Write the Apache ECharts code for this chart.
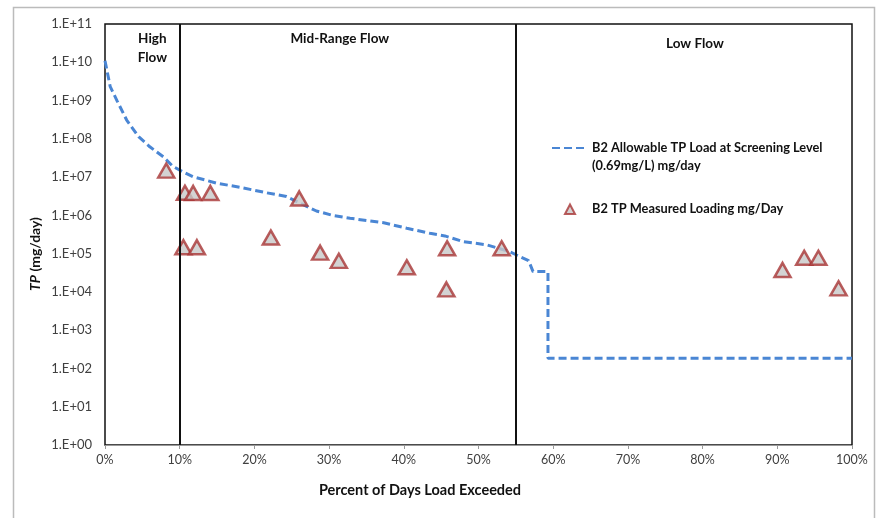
<!DOCTYPE html>
<html>
<head>
<meta charset="utf-8">
<script src="https://cdn.jsdelivr.net/npm/echarts@6/dist/echarts.min.js"></script>
<style>html,body{margin:0;padding:0;background:#fff}#c{width:883px;height:518px}</style>
</head>
<body>
<div id="c"></div>
<script>
// Allowable load curve (percent of days exceeded, mg/day)
var curvePct = [0, 0.7, 1.6, 2.9, 4.5, 6.0, 7.8, 9.1, 10.5, 11.8, 15, 18.1, 21.6, 24.3, 26.1, 28.3, 30.5, 32.8, 37.3, 40.4, 43.5, 45.5, 48, 51.1, 54.2, 55.1, 56.7, 57.3, 59.3, 59.3, 100];
var curveVal = [1.1e10, 2.3e9, 1.0e9, 3.1e8, 1.14e8, 6.2e7, 3.4e7, 1.9e7, 1.35e7, 1.02e7, 6.9e6, 5.4e6, 3.9e6, 3.1e6, 2.1e6, 1.3e6, 1.0e6, 8.4e5, 6.4e5, 4.6e5, 3.4e5, 2.9e5, 2.05e5, 1.7e5, 1.12e5, 9.2e4, 6.6e4, 3.4e4, 3.4e4, 184, 184];
// Measured loading
var measPct = [8.2, 10.7, 11.8, 14.1, 26.0, 10.5, 12.3, 22.2, 28.8, 31.3, 40.4, 45.8, 45.7, 53.1, 90.7, 93.6, 95.5, 98.2];
var measVal = [1.48e7, 3.9e6, 3.85e6, 3.85e6, 2.76e6, 1.47e5, 1.47e5, 2.64e5, 1.06e5, 6.5e4, 4.4e4, 1.38e5, 1.16e4, 1.38e5, 3.74e4, 7.8e4, 7.8e4, 1.24e4];
// Flow regimes
var regimeBreaks = [10, 55];
var regimeNames = ['High\nFlow', 'Mid-Range Flow', 'Low Flow'];
var regimeBounds = [[0, 10], [10, 55], [55, 100]];
var seriesNames = ['B2 Allowable TP Load at Screening Level\n(0.69mg/L) mg/day', 'B2 TP Measured Loading mg/Day'];

var FONT = 'Lato, "Open Sans", sans-serif';
var chart = echarts.init(document.getElementById('c'), null, {renderer: 'canvas'});

function zip(a, b) { return a.map(function (v, i) { return [v, b[i]]; }); }

var labelOffsets = [[10, 0], [-8, 0], [11, 5]];

var option = {
  backgroundColor: '#fff',
  animation: false,
  textStyle: {fontFamily: FONT},
  grid: {left: 105, right: 31, top: 24, bottom: 73, show: true, borderColor: '#111', borderWidth: 1.5, containLabel: false},
  xAxis: {
    type: 'value', min: 0, max: 100, interval: 10,
    axisLine: {show: true, lineStyle: {color: '#999', width: 1}},
    axisTick: {show: true, length: 4, lineStyle: {color: '#999'}},
    axisLabel: {formatter: '{value}%', color: '#404040', fontSize: 12.5, fontFamily: FONT, margin: 8},
    splitLine: {show: false}
  },
  yAxis: {
    type: 'log', logBase: 10, min: 1, max: 1e11, interval: 1,
    axisLine: {show: false},
    axisTick: {show: false},
    axisLabel: {
      color: '#404040', fontSize: 13, fontFamily: FONT, margin: 13,
      formatter: function (v) {
        var e = Math.round(Math.log10(v));
        return '1.E+' + (e < 10 ? '0' + e : '' + e);
      }
    },
    splitLine: {show: false}
  },
  legend: {
    orient: 'vertical', left: 546, top: 116, itemGap: 25,
    itemWidth: 35, itemHeight: 12,
    textStyle: {fontFamily: FONT, fontSize: 12.8, fontWeight: 'bold', color: '#111', lineHeight: 18},
    formatter: function (name) { return name.indexOf('\n') >= 0 ? ' \n' + name : name; },
    data: [
      {name: seriesNames[0], itemStyle: {color: 'rgba(0,0,0,0)', borderWidth: 0, opacity: 0}},
      {name: seriesNames[1], icon: 'path://M0,0M35,12M18,1.5L23,11L13,11Z',
        itemStyle: {color: '#c8c8c8', borderColor: '#a83535', borderWidth: 2}}
    ]
  },
  series: [
    {
      name: seriesNames[0], type: 'line', data: zip(curvePct, curveVal),
      showSymbol: false, symbol: 'none', smooth: false,
      lineStyle: {color: '#4a86d4', width: 3, type: [8, 4]},
      itemStyle: {color: '#4a86d4'},
      z: 3
    },
    {
      name: seriesNames[1], type: 'scatter', data: zip(measPct, measVal),
      symbol: 'triangle', symbolSize: [16, 14],
      itemStyle: {color: '#c8c8c8', borderColor: '#a83535', borderWidth: 2.5},
      z: 4,
      markLine: {
        silent: true, symbol: 'none',
        label: {show: false},
        lineStyle: {color: '#111', width: 2, type: 'solid'},
        data: regimeBreaks.map(function (b) { return {xAxis: b}; })
      },
      markArea: {
        silent: true,
        itemStyle: {color: 'rgba(0,0,0,0)'},
        label: {show: true, position: 'insideTop', distance: 5, color: '#111', fontSize: 13.5, fontWeight: 'bold', fontFamily: FONT, lineHeight: 19, align: 'center'},
        data: regimeBounds.map(function (r, i) {
          return [{xAxis: r[0], name: regimeNames[i], label: {offset: labelOffsets[i]}}, {xAxis: r[1]}];
        })
      }
    }
  ],
  graphic: [
    {type: 'rect', left: 11, top: 5, shape: {width: 861, height: 540}, style: {fill: 'none', stroke: '#bbb', lineWidth: 1.5}, silent: true, z: -10},
    {type: 'text', x: 35, y: 254, rotation: Math.PI / 2, style: {
      text: '{i|TP} (mg/day)', align: 'center', verticalAlign: 'middle',
      rich: {i: {fontStyle: 'italic', fontWeight: 'bold', fontSize: 14, fontFamily: FONT, fill: '#111'}},
      fontWeight: 'bold', fontSize: 14, fontFamily: FONT, fill: '#111'
    }},
    {type: 'text', x: 420, y: 490, style: {text: 'Percent of Days Load Exceeded', align: 'center', verticalAlign: 'middle', fontWeight: 'bold', fontSize: 14.5, fontFamily: FONT, fill: '#111'}}
  ]
};
chart.setOption(option);
</script>
</body>
</html>
